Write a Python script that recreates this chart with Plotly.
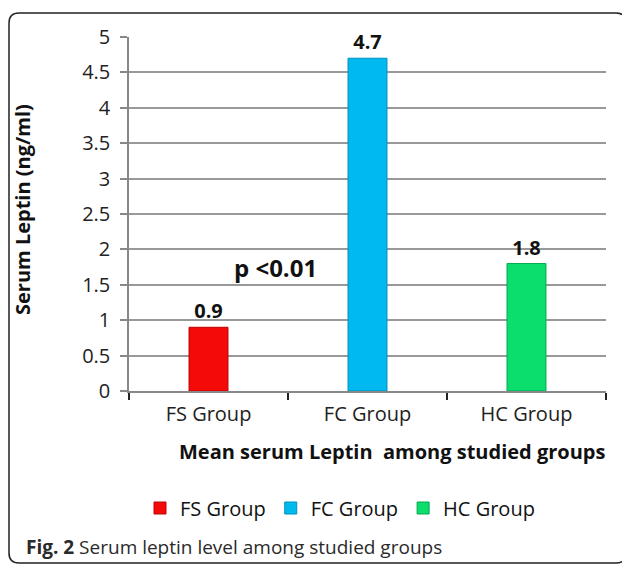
import plotly.graph_objects as go

groups = ["FS Group", "FC Group", "HC Group"]
values = [0.9, 4.7, 1.8]
labels = ["0.9", "4.7", "1.8"]
colors = ["#F50A0A", "#00B9EE", "#0BDE6C"]
edge_colors = ["#C00000", "#0090C0", "#00A850"]
y_ticks = [0, 0.5, 1, 1.5, 2, 2.5, 3, 3.5, 4, 4.5, 5]
y_ticktext = ["0", "0.5", "1", "1.5", "2", "2.5", "3", "3.5", "4", "4.5", "5"]
grid_vals = [0.5, 1, 1.5, 2, 2.5, 3, 3.5, 4, 4.5]

# page has an 8px body margin
OFF = 8
W, H = 622, 557
L, T = 121, 29
pw, ph = 477, 354
R, B = W - L - pw, H - T - ph

def px(page_x):
    return (page_x - OFF - L) / pw

def py(page_y):
    return (T + ph - (page_y - OFF)) / ph

FONT = "Open Sans"
FS = 20

fig = go.Figure()
for g, v, lab, c, ec in zip(groups, values, labels, colors, edge_colors):
    fig.add_trace(go.Bar(
        x=[g], y=[v], name=g, width=0.245,
        marker=dict(color=c, line=dict(color=ec, width=1)),
        text=[lab], textposition="outside", cliponaxis=False,
        textfont=dict(family=FONT, size=20, color="#111"),
        texttemplate="<b>%{text}</b>",
    ))

# rounded frame
x0, y0, x1, y1, r = 9, 13, 626, 563, 10
path = (f"M {px(x0+r)},{py(y0)} L {px(x1-r)},{py(y0)} Q {px(x1)},{py(y0)} {px(x1)},{py(y0+r)} "
        f"L {px(x1)},{py(y1-r)} Q {px(x1)},{py(y1)} {px(x1-r)},{py(y1)} "
        f"L {px(x0+r)},{py(y1)} Q {px(x0)},{py(y1)} {px(x0)},{py(y1-r)} "
        f"L {px(x0)},{py(y0+r)} Q {px(x0)},{py(y0)} {px(x0+r)},{py(y0)} Z")
fig.add_shape(type="path", path=path, xref="paper", yref="paper",
              line=dict(color="#222", width=1.5), layer="below")

fig.add_annotation(x=0.42, y=1.74, xref="x", yref="y", text="<b>p <0.01</b>",
                   xanchor="center", yanchor="middle",
                   showarrow=False, font=dict(family=FONT, size=24, color="#111"))
fig.add_annotation(x=px(392), y=py(452), xref="paper", yref="paper",
                   xanchor="center", yanchor="middle",
                   text="<b>Mean serum Leptin  among studied groups</b>", showarrow=False,
                   font=dict(family=FONT, size=FS, color="#111"))
fig.add_annotation(x=px(22), y=py(210), xref="paper", yref="paper", textangle=-90,
                   xanchor="center", yanchor="middle",
                   text="<b>Serum Leptin (ng/ml)</b>", showarrow=False,
                   font=dict(family=FONT, size=FS, color="#111"))
fig.add_annotation(x=px(24), y=py(547), xref="paper", yref="paper", xanchor="left",
                   yanchor="middle", showarrow=False,
                   text="<b>Fig. 2</b> Serum leptin level among studied groups",
                   font=dict(family=FONT, size=19, color="#2a2a2a"))

fig.update_layout(
    width=W, height=H,
    margin=dict(l=L, r=R, t=T, b=B),
    plot_bgcolor="white", paper_bgcolor="white",
    barmode="overlay",
    font=dict(family=FONT, size=FS, color="#222"),
    showlegend=True,
    legend=dict(orientation="h", x=px(140), xanchor="left", y=py(508), yanchor="middle",
                font=dict(family=FONT, size=FS, color="#111"), itemwidth=30,
                tracegroupgap=0),
    xaxis=dict(
        type="category", showgrid=False, showline=True, linecolor="#888", linewidth=1.5,
        ticks="outside", tickson="boundaries", ticklen=7, tickcolor="#222", tickwidth=1.5,
        ticklabelstandoff=4,
        tickfont=dict(family=FONT, size=FS, color="#222"),
    ),
    yaxis=dict(
        range=[0, 5], tickvals=y_ticks, ticktext=y_ticktext,
        showgrid=False,
        showline=True, linecolor="#888", linewidth=1.5,
        ticks="outside", ticklen=7, tickcolor="#888", tickwidth=1.5,
        zeroline=False, ticklabelstandoff=6,
        tickfont=dict(family=FONT, size=FS, color="#222"),
    ),
    yaxis2=dict(
        range=[0, 5], overlaying="y", tickvals=grid_vals, showticklabels=False,
        showgrid=True, gridcolor="#999", gridwidth=1.5, ticks="", showline=False,
        zeroline=False,
    ),
)
# invisible trace to anchor the grid axis
fig.add_trace(go.Scatter(x=[groups[0]], y=[0], yaxis="y2", mode="markers",
                         marker=dict(opacity=0), showlegend=False, hoverinfo="skip"))

fig.write_html("out.html")
